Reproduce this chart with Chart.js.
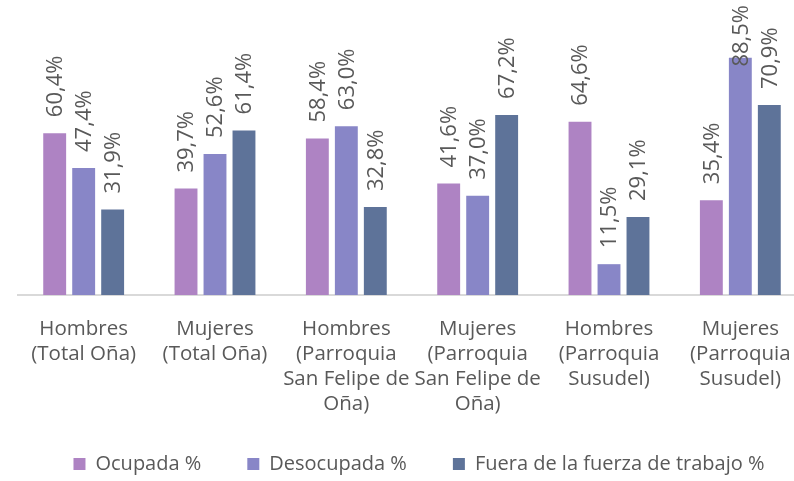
<!DOCTYPE html>
<html>
<head>
<meta charset="utf-8">
<script src="https://cdn.jsdelivr.net/npm/chart.js@4.4.1/dist/chart.umd.min.js"></script>
<style>
  html, body { margin: 0; padding: 0; background: #fff; overflow: hidden; }
  #wrap { width: 838px; height: 481px; }
</style>
</head>
<body>
<div id="wrap"><canvas id="chart"></canvas></div>
<script>
// ── Data ──────────────────────────────────
const categories = [
  ['Hombres', '(Total Oña)'],
  ['Mujeres', '(Total Oña)'],
  ['Hombres', '(Parroquia', 'San Felipe de', 'Oña)'],
  ['Mujeres', '(Parroquia', 'San Felipe de', 'Oña)'],
  ['Hombres', '(Parroquia', 'Susudel)'],
  ['Mujeres', '(Parroquia', 'Susudel)'],
];
const seriesNames = ['Ocupada %', 'Desocupada %', 'Fuera de la fuerza de trabajo %'];
const ocupada = [60.4, 39.7, 58.4, 41.6, 64.6, 35.4];
const desocupada = [47.4, 52.6, 63.0, 37.0, 11.5, 88.5];
const fuera = [31.9, 61.4, 32.8, 67.2, 29.1, 70.9];

const COLORS = ['#AE83C3', '#8886C7', '#5E7399'];
const TEXT = '#595959';
const FONT = "'Open Sans', sans-serif";

// ── Rotated value labels ──────────────────
const valueLabels = {
  id: 'valueLabels',
  afterDatasetsDraw(chart) {
    const ctx = chart.ctx;
    ctx.save();
    ctx.font = `22px ${FONT}`;
    ctx.fillStyle = TEXT;
    ctx.textAlign = 'left';
    ctx.textBaseline = 'middle';
    chart.data.datasets.forEach((ds, di) => {
      chart.getDatasetMeta(di).data.forEach((bar, i) => {
        const txt = ds.data[i].toFixed(1).replace('.', ',') + '%';
        const w = ctx.measureText(txt).width;
        const start = Math.max(bar.y - 16, 5 + w);
        ctx.save();
        ctx.translate(bar.x + 1, start);
        ctx.rotate(-Math.PI / 2);
        ctx.fillText(txt, 0, 0);
        ctx.restore();
      });
    });
    ctx.restore();
  },
};

// nudge the legend so it sits where the original one does
const legendShift = {
  id: 'legendShift',
  afterLayout(chart) {
    const l = chart.legend;
    if (!l) return;
    l.left += 7; l.right += 7;
    l.top -= 9; l.bottom -= 9;
  },
};

const makeSet = (i, data) => ({
  label: seriesNames[i],
  data,
  backgroundColor: COLORS[i],
  borderWidth: 0,
  categoryPercentage: 0.662,
  barPercentage: 0.79,
});

new Chart(document.getElementById('chart'), {
  type: 'bar',
  data: {
    labels: categories,
    datasets: [makeSet(0, ocupada), makeSet(1, desocupada), makeSet(2, fuera)],
  },
  plugins: [valueLabels, legendShift],
  options: {
    responsive: true,
    maintainAspectRatio: false,
    animation: false,
    layout: { padding: { left: 18, right: 32, top: 27, bottom: -12 } },
    scales: {
      x: {
        grid: { display: false },
        border: { display: true, color: '#D9D9D9', width: 2 },
        ticks: {
          color: TEXT,
          padding: 14,
          maxRotation: 0,
          autoSkip: false,
          font: { family: FONT, size: 20.5, lineHeight: 1.22 },
        },
        afterFit(scale) { scale.height = 122; },
      },
      y: {
        display: false,
        min: 0,
        max: 100,
      },
    },
    plugins: {
      legend: {
        position: 'bottom',
        labels: {
          color: TEXT,
          boxWidth: 12,
          boxHeight: 12,
          padding: 46,
          font: { family: FONT, size: 20 },
        },
      },
      tooltip: { enabled: false },
    },
  },
});
</script>
</body>
</html>
